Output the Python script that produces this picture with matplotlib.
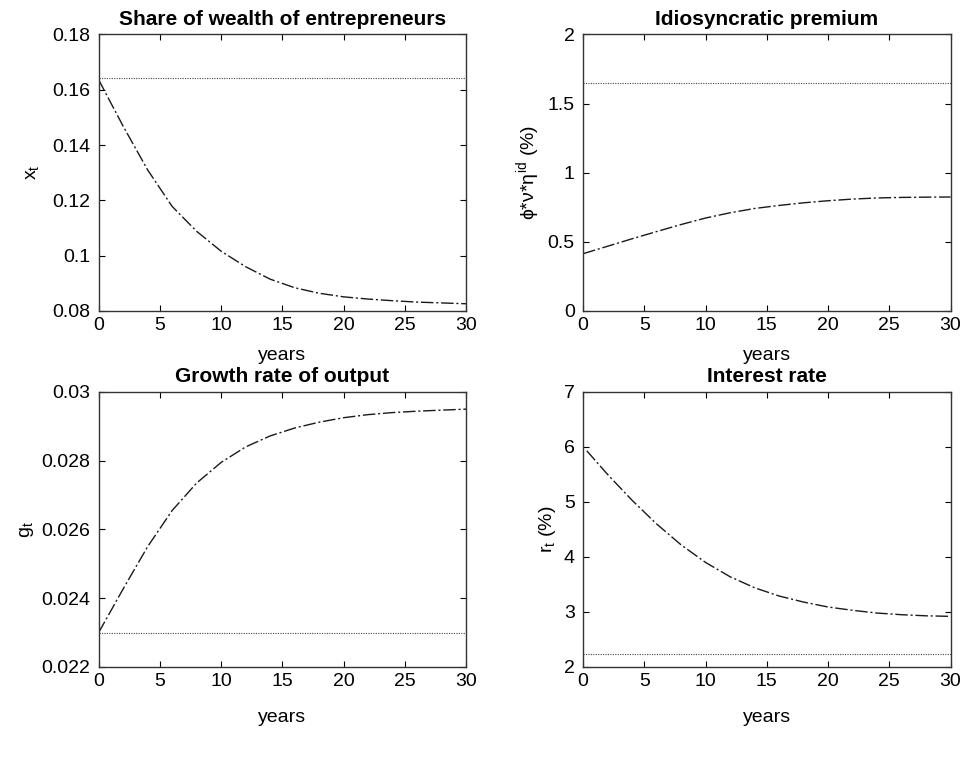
import matplotlib
matplotlib.use('Agg')
import matplotlib.pyplot as plt

plt.rcParams['font.family'] = ['Liberation Sans', 'DejaVu Sans']
plt.rcParams['mathtext.fontset'] = 'custom'
plt.rcParams['mathtext.rm'] = 'Liberation Sans'
plt.rcParams['mathtext.it'] = 'Liberation Sans'

years = [0, 2, 4, 6, 8, 10, 12, 14, 16, 18, 20, 22, 24, 26, 28, 30]

share_wealth = [0.1636, 0.1468, 0.1310, 0.1178, 0.1088, 0.1016, 0.0960, 0.0915,
                0.0884, 0.0864, 0.0851, 0.0843, 0.0837, 0.0832, 0.0829, 0.0826]
share_wealth_ref = 0.1643

premium = [0.414, 0.468, 0.522, 0.574, 0.625, 0.672, 0.710, 0.741,
           0.763, 0.782, 0.797, 0.809, 0.817, 0.821, 0.823, 0.824]
premium_ref = 1.65

growth = [0.0230, 0.02427, 0.02550, 0.02655, 0.02735, 0.02795, 0.02840, 0.02872,
          0.02895, 0.02912, 0.02925, 0.02934, 0.02940, 0.02944, 0.02947, 0.02950]
growth_ref = 0.0230

rate_years = [0.3, 2, 4, 6, 8, 10, 12, 14, 16, 18, 20, 22, 24, 26, 28, 30]
interest = [5.93, 5.50, 5.03, 4.60, 4.22, 3.90, 3.64, 3.44,
            3.29, 3.18, 3.09, 3.03, 2.98, 2.95, 2.93, 2.92]
interest_ref = 2.24

fig = plt.figure(figsize=(9.67, 7.64), dpi=100)

panels = [
    dict(pos=[0.102, 0.593, 0.380, 0.362], x=years, y=share_wealth, ref=share_wealth_ref,
         title='Share of wealth of entrepreneurs', ylabel=r'x$_\mathrm{t}$', ypad=8, xpad=10,
         ylim=(0.08, 0.18), yticks=[0.08, 0.1, 0.12, 0.14, 0.16, 0.18],
         ylabs=['0.08', '0.1', '0.12', '0.14', '0.16', '0.18']),
    dict(pos=[0.603, 0.593, 0.380, 0.362], x=years, y=premium, ref=premium_ref,
         title='Idiosyncratic premium', ylabel=r'$\phi$*$\nu$*$\eta^{\mathrm{id}}$ (%)', ypad=4, xpad=10,
         ylim=(0, 2), yticks=[0, 0.5, 1, 1.5, 2],
         ylabs=['0', '0.5', '1', '1.5', '2']),
    dict(pos=[0.102, 0.127, 0.380, 0.360], x=years, y=growth, ref=growth_ref,
         title='Growth rate of output', ylabel=r'g$_\mathrm{t}$', ypad=4, xpad=14,
         ylim=(0.022, 0.03), yticks=[0.022, 0.024, 0.026, 0.028, 0.03],
         ylabs=['0.022', '0.024', '0.026', '0.028', '0.03']),
    dict(pos=[0.603, 0.127, 0.380, 0.360], x=rate_years, y=interest, ref=interest_ref,
         title='Interest rate', ylabel=r'r$_\mathrm{t}$ (%)', ypad=4, xpad=14,
         ylim=(2, 7), yticks=[2, 3, 4, 5, 6, 7],
         ylabs=['2', '3', '4', '5', '6', '7']),
]

for p in panels:
    ax = fig.add_axes(p['pos'])
    ax.plot(p['x'], p['y'], color='#1a1a1a', lw=1.0, linestyle=(0, (9, 2, 1.5, 2)))
    ax.axhline(p['ref'], color='#444444', lw=0.8, linestyle=(0, (1, 1.2)))
    ax.set_xlim(0, 30)
    ax.set_ylim(*p['ylim'])
    ax.set_xticks([0, 5, 10, 15, 20, 25, 30])
    ax.set_yticks(p['yticks'])
    ax.set_yticklabels(p['ylabs'])
    ax.tick_params(direction='in', top=True, right=True, labelsize=14, length=4,
                   width=0.8)
    ax.tick_params(axis='x', pad=4)
    ax.tick_params(axis='y', pad=6)
    ax.set_title(p['title'], fontsize=15, fontweight='bold', pad=7)
    ax.set_xlabel('years', fontsize=14, labelpad=p['xpad'])
    ax.set_ylabel(p['ylabel'], fontsize=14, labelpad=p['ypad'])
    for s in ax.spines.values():
        s.set_linewidth(1.0)
        s.set_color('#333333')

fig.savefig('out.png', dpi=100)
